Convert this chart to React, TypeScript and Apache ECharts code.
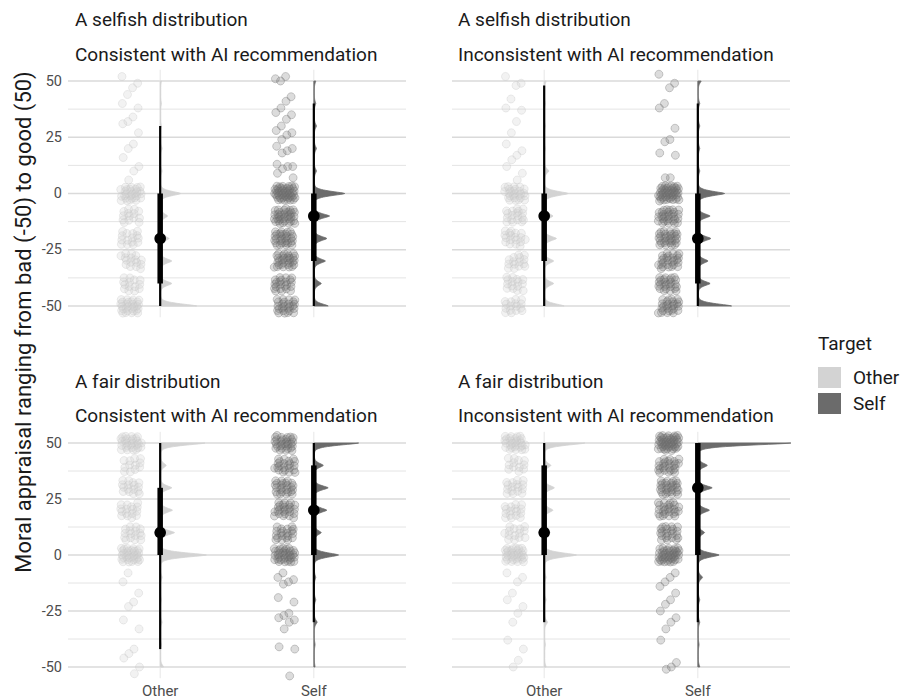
import React, { useEffect, useRef } from "react";
import * as echarts from "echarts";

// ---------- data ----------
const categories = ["Other", "Self"];
const distributionRows = ["A selfish distribution", "A fair distribution"];
const recommendationCols = ["Consistent with AI recommendation", "Inconsistent with AI recommendation"];
const yAxisTitle = "Moral appraisal ranging from bad (-50) to good (50)";
const legendTitle = "Target";
const yTickValues = [-50, -25, 0, 25, 50];
const gridValues = [-50, -37.5, -25, -12.5, 0, 12.5, 25, 37.5, 50];
const responseLevels = [-50, -40, -30, -20, -10, 0, 10, 20, 30, 40, 50];

// number of responses at each level of responseLevels
const countsSelfishConsOther = [28, 14, 16, 15, 14, 28, 0, 0, 0, 0, 0];
const countsSelfishConsSelf = [25, 22, 30, 30, 35, 45, 0, 0, 0, 0, 0];
const countsSelfishInconsOther = [16, 15, 15, 18, 18, 26, 0, 0, 0, 0, 0];
const countsSelfishInconsSelf = [26, 25, 26, 30, 30, 45, 0, 0, 0, 0, 0];
const countsFairConsOther = [0, 0, 0, 0, 0, 32, 16, 16, 16, 12, 28];
const countsFairConsSelf = [0, 0, 0, 0, 0, 35, 20, 25, 25, 22, 30];
const countsFairInconsOther = [0, 0, 0, 0, 0, 32, 14, 16, 16, 12, 28];
const countsFairInconsSelf = [0, 0, 0, 0, 0, 40, 22, 25, 28, 25, 45];

// individual responses away from the levels
const otherSelfishConsOther = [52, 49, 47, 44, 40, 38, 34, 32, 31, 27, 22, 20, 16, 12, 10, 6];
const otherSelfishConsSelf = [52, 50, 51, 43, 41, 38, 36, 35, 33, 30, 28, 27, 26, 24, 21, 20, 19, 18, 13, 12, 12, 11, 9, 7];
const otherSelfishInconsOther = [52, 49, 48, 42, 38, 37, 32, 27, 22, 19, 17, 15, 12, 9, 6];
const otherSelfishInconsSelf = [53, 49, 47, 40, 38, 29, 24, 23, 18, 17, 7, 7];
const otherFairConsOther = [-8, -12, -17, -21, -23, -29, -33, -42, -44, -46, -50, -53];
const otherFairConsSelf = [-8, -10, -11, -12, -13, -19, -21, -26, -27, -28, -29, -30, -33, -41, -42, -54];
const otherFairInconsOther = [-8, -10, -12, -17, -20, -23, -26, -30, -38, -42, -47, -50];
const otherFairInconsSelf = [-8, -10, -12, -14, -17, -20, -22, -25, -28, -30, -33, -38, -48, -50, -51];

// density peak heights at each level of responseLevels
const densSelfishConsOther = [0.26, 0.08, 0.08, 0.06, 0.05, 0.145, 0.01, 0.01, 0.005, 0.005, 0.005];
const densSelfishConsSelf = [0.1, 0.05, 0.08, 0.09, 0.11, 0.22, 0.015, 0.015, 0.015, 0.01, 0.01];
const densSelfishInconsOther = [0.14, 0.065, 0.065, 0.085, 0.06, 0.17, 0.03, 0.005, 0.005, 0.005, 0.01];
const densSelfishInconsSelf = [0.24, 0.085, 0.07, 0.09, 0.085, 0.19, 0.01, 0.01, 0.01, 0.01, 0.02];
const densFairConsOther = [0.02, 0.005, 0.01, 0.005, 0.01, 0.33, 0.1, 0.085, 0.08, 0.04, 0.32];
const densFairConsSelf = [0.005, 0.005, 0.02, 0.01, 0.01, 0.175, 0.05, 0.09, 0.1, 0.065, 0.32];
const densFairInconsOther = [0.01, 0.005, 0.02, 0.01, 0.01, 0.23, 0.04, 0.06, 0.07, 0.045, 0.29];
const densFairInconsSelf = [0.01, 0.005, 0.01, 0.01, 0.03, 0.15, 0.045, 0.08, 0.1, 0.065, 0.67];

// point-interval summaries, group order: TL Other, TL Self, TR Other, TR Self, BL Other, BL Self, BR Other, BR Self
const medians = [-20, -10, -10, -20, 10, 20, 10, 30];
const q66Low = [-40, -30, -30, -40, 0, 0, 0, 0];
const q66High = [0, 0, 0, 0, 30, 40, 40, 50];
const q95Low = [-50, -50, -50, -50, -42, -30, -30, -30];
const q95High = [30, 40, 48, 40, 50, 50, 50, 50];

const pointCounts = [
  countsSelfishConsOther, countsSelfishConsSelf, countsSelfishInconsOther, countsSelfishInconsSelf,
  countsFairConsOther, countsFairConsSelf, countsFairInconsOther, countsFairInconsSelf,
];
const pointOthers = [
  otherSelfishConsOther, otherSelfishConsSelf, otherSelfishInconsOther, otherSelfishInconsSelf,
  otherFairConsOther, otherFairConsSelf, otherFairInconsOther, otherFairInconsSelf,
];
const densities = [
  densSelfishConsOther, densSelfishConsSelf, densSelfishInconsOther, densSelfishInconsSelf,
  densFairConsOther, densFairConsSelf, densFairInconsOther, densFairInconsSelf,
];

// ---------- styles / layout ----------
const FONT = "Roboto";
const slabColors = ["#d3d3d3", "#6b6b6b"];
const pointFill = ["rgba(205,205,205,0.33)", "rgba(110,110,110,0.30)"];
const pointStroke = ["rgba(200,200,200,0.42)", "rgba(110,110,110,0.42)"];
const gridBoxes = [
  { left: 68, top: 69.75, width: 338, height: 247.5 },
  { left: 452, top: 69.75, width: 338, height: 247.5 },
  { left: 68, top: 431.8, width: 338, height: 246.4 },
  { left: 452, top: 431.8, width: 338, height: 246.4 },
];
const X_MIN = 0.4;
const X_MAX = 2.6;
const Y_MIN = -55;
const Y_MAX = 55;
const RAIN_OFFSET = 0.19;
const RAIN_WIDTH = 0.135;
const Y_JITTER = 6.8;
const SLAB_SCALE = 0.9;

const frac = (v: number) => v - Math.floor(v);

// deterministic jitter layout (like geom_jitter) around each response
function buildPoints(g: number) {
  const cat = (g % 2) + 1;
  const pts: number[][] = [];
  let k = 0;
  responseLevels.forEach((lv, li) => {
    for (let n = 0; n < pointCounts[g][li]; n++) {
      k++;
      const u = frac(0.5 + k * 0.7548776662 + g * 0.13);
      const v = frac(0.5 + k * 0.569840291 + g * 0.29);
      pts.push([cat - RAIN_OFFSET + (u - 0.5) * RAIN_WIDTH, lv + (v - 0.5) * Y_JITTER]);
    }
  });
  pointOthers[g].forEach((val) => {
    k++;
    const u = frac(0.5 + k * 0.7548776662 + g * 0.13);
    pts.push([cat - RAIN_OFFSET + (u - 0.5) * RAIN_WIDTH, val]);
  });
  return pts;
}

function slabWidth(g: number, y: number) {
  let w = 0.004;
  responseLevels.forEach((lv, li) => {
    const d = Math.abs(y - lv) / 1.4;
    w += densities[g][li] * Math.exp(-Math.pow(d, 1.5));
  });
  return w;
}

function gridRender(params: any, api: any) {
  const children: any[] = [];
  gridValues.forEach((v) => {
    const a = api.coord([X_MIN, v]);
    const b = api.coord([X_MAX, v]);
    children.push({
      type: "line",
      shape: { x1: a[0], y1: a[1], x2: b[0], y2: b[1] },
      style: { stroke: v % 25 === 0 ? "#dadada" : "#e4e4e4", lineWidth: v % 25 === 0 ? 1.3 : 1 },
    });
  });
  [1, 2].forEach((c) => {
    const a = api.coord([c, Y_MIN]);
    const b = api.coord([c, Y_MAX]);
    children.push({
      type: "line",
      shape: { x1: a[0], y1: a[1], x2: b[0], y2: b[1] },
      style: { stroke: "#e6e6e6", lineWidth: 1 },
    });
  });
  return { type: "group", children };
}

function makeSlabRender(panel: number) {
  return (params: any, api: any) => {
    const t = params.dataIndex;
    const g = panel * 2 + t;
    const cat = t + 1;
    const pts: number[][] = [];
    const lo = -50;
    const hi = 50;
    pts.push(api.coord([cat, lo]));
    for (let y = lo; y <= hi + 1e-9; y += 0.2) {
      pts.push(api.coord([cat + SLAB_SCALE * slabWidth(g, y), y]));
    }
    pts.push(api.coord([cat, hi]));
    const p95a = api.coord([cat, q95Low[g]]);
    const p95b = api.coord([cat, q95High[g]]);
    const p66a = api.coord([cat, q66Low[g]]);
    const p66b = api.coord([cat, q66High[g]]);
    const pm = api.coord([cat, medians[g]]);
    return {
      type: "group",
      children: [
        { type: "polygon", shape: { points: pts }, style: { fill: slabColors[t], stroke: slabColors[t], lineWidth: 0.8 } },
        { type: "line", shape: { x1: p95a[0], y1: p95a[1], x2: p95b[0], y2: p95b[1] }, style: { stroke: "#000", lineWidth: 2.2 } },
        { type: "line", shape: { x1: p66a[0], y1: p66a[1], x2: p66b[0], y2: p66b[1] }, style: { stroke: "#000", lineWidth: 5.5 } },
        { type: "circle", shape: { cx: pm[0], cy: pm[1], r: 5.8 }, style: { fill: "#000" } },
      ],
    };
  };
}

function buildOption(): any {
  const grid = gridBoxes.map((b) => ({ ...b, containLabel: false }));
  const xAxis = gridBoxes.map((_, i) => ({
    type: "value",
    gridIndex: i,
    min: X_MIN,
    max: X_MAX,
    axisLine: { show: false },
    axisTick: { show: false },
    splitLine: { show: false },
    axisLabel: {
      show: i >= 2,
      customValues: [1, 2],
      formatter: (v: number) => categories[Math.round(v) - 1] || "",
      fontFamily: FONT,
      fontSize: 15,
      color: "#4d4d4d",
      margin: 5,
    },
  }));
  const yAxis = gridBoxes.map((_, i) => ({
    type: "value",
    gridIndex: i,
    min: Y_MIN,
    max: Y_MAX,
    axisLine: { show: false },
    axisTick: { show: false },
    splitLine: { show: false },
    axisLabel: {
      show: i % 2 === 0,
      customValues: yTickValues,
      fontFamily: FONT,
      fontSize: 14.5,
      color: "#4d4d4d",
      margin: 6,
    },
  }));
  const series: any[] = [];
  for (let p = 0; p < 4; p++) {
    series.push({
      type: "custom",
      xAxisIndex: p,
      yAxisIndex: p,
      z: 0,
      silent: true,
      renderItem: gridRender,
      data: [[1, 0]],
    });
  }
  for (let g = 0; g < 8; g++) {
    const p = Math.floor(g / 2);
    const t = g % 2;
    series.push({
      type: "scatter",
      name: categories[t],
      xAxisIndex: p,
      yAxisIndex: p,
      z: 2,
      silent: true,
      symbol: "circle",
      symbolSize: 8,
      itemStyle: { color: pointFill[t], borderColor: pointStroke[t], borderWidth: 1 },
      data: buildPoints(g),
    });
  }
  for (let p = 0; p < 4; p++) {
    series.push({
      type: "custom",
      xAxisIndex: p,
      yAxisIndex: p,
      z: 3,
      silent: true,
      renderItem: makeSlabRender(p),
      data: [[1, 0], [2, 0]],
    });
  }
  const txt = (x: number, y: number, text: string, size: number, color: string) => ({
    type: "text",
    x,
    y,
    style: {
      text,
      fontFamily: FONT,
      fontSize: size,
      fill: color,
      align: "left",
      textAlign: "left",
      verticalAlign: "middle",
      textVerticalAlign: "middle",
    },
  });
  const graphic: any[] = [];
  const stripX = [75, 458];
  const stripY = [[19.5, 54], [381.5, 415.5]];
  for (let r = 0; r < 2; r++) {
    for (let c = 0; c < 2; c++) {
      graphic.push(txt(stripX[c], stripY[r][0], distributionRows[r], 19, "#1a1a1a"));
      graphic.push(txt(stripX[c], stripY[r][1], recommendationCols[c], 19, "#1a1a1a"));
    }
  }
  graphic.push({
    type: "text",
    x: 23,
    y: 322,
    rotation: Math.PI / 2,
    style: {
      text: yAxisTitle,
      fontFamily: FONT,
      fontSize: 22,
      fill: "#1a1a1a",
      align: "center",
      textAlign: "center",
      verticalAlign: "middle",
      textVerticalAlign: "middle",
    },
  });
  graphic.push(txt(818, 343, legendTitle, 19, "#1a1a1a"));
  graphic.push({ type: "rect", shape: { x: 818, y: 367, width: 23, height: 21 }, style: { fill: slabColors[0] } });
  graphic.push({ type: "rect", shape: { x: 818, y: 393, width: 23, height: 21 }, style: { fill: slabColors[1] } });
  graphic.push(txt(853, 377.5, categories[0], 19, "#1a1a1a"));
  graphic.push(txt(853, 403.5, categories[1], 19, "#1a1a1a"));

  return {
    animation: false,
    backgroundColor: "#ffffff",
    grid,
    xAxis,
    yAxis,
    series,
    graphic,
  };
}

export default function App() {
  const ref = useRef<HTMLDivElement>(null);
  useEffect(() => {
    if (!ref.current) return;
    const chart = echarts.init(ref.current, undefined, { renderer: "svg" });
    chart.setOption(buildOption());
    return () => chart.dispose();
  }, []);
  return (
    <div
      ref={ref}
      style={{ position: "fixed", left: 0, top: 0, width: 902, height: 699, background: "#fff" }}
    />
  );
}
